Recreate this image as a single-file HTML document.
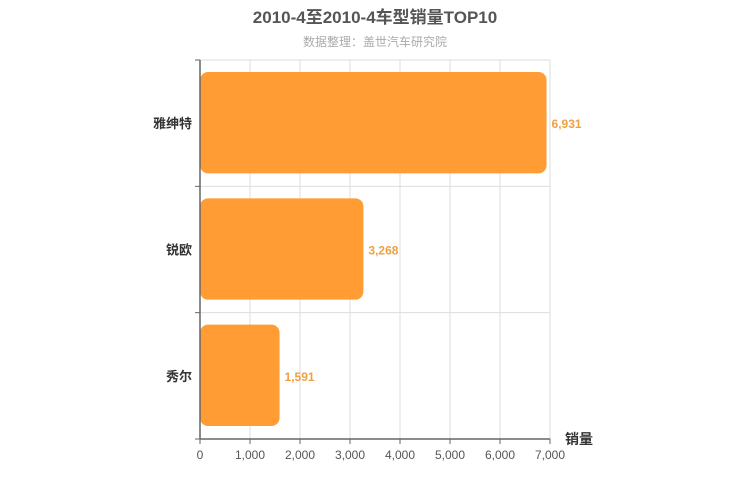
<!DOCTYPE html>
<html><head><meta charset="utf-8"><style>
body{margin:0;background:#fff;}
svg{display:block;font-family:"Liberation Sans","Noto Sans CJK SC",sans-serif;}
</style></head><body>
<svg id="chart" width="750" height="500">
<text x="375" y="23" text-anchor="middle" font-size="17" font-weight="bold" fill="#555">2010-4至2010-4车型销量TOP10</text>
<text x="375" y="46" text-anchor="middle" font-size="12" fill="#aaa">数据整理：盖世汽车研究院</text>
<g id="grid"></g>
<g id="bars"></g>
<g id="axes"></g>
<text x="565" y="444" font-size="14" font-weight="bold" fill="#333">销量</text>
</svg>
<script>
const categories = ["雅绅特", "锐欧", "秀尔"];
const values = [6931, 3268, 1591];
const tickValues = [0, 1000, 2000, 3000, 4000, 5000, 6000, 7000];
const xMax = 7000;
const X0 = 200, X1 = 550, Y0 = 60, Y1 = 439;
const NS = "http://www.w3.org/2000/svg";
function xs(v){return X0 + (v / xMax) * (X1 - X0);}
const band = (Y1 - Y0) / categories.length;
function el(tag, attrs, parent){const e=document.createElementNS(NS,tag);for(const k in attrs)e.setAttribute(k,attrs[k]);parent.appendChild(e);return e;}
const grid=document.getElementById('grid'), bars=document.getElementById('bars'), axes=document.getElementById('axes');
tickValues.forEach(t=>{
  const x=xs(t);
  if(t>0){const g=el('line',{x1:x,x2:x,y1:Y0,y2:Y1,stroke:'#ddd','stroke-width':1},grid);
  
  }
  const tk=el('line',{x1:x,x2:x,y1:Y1,y2:Y1+5,stroke:'#666'},axes);
  
  
  const lb=el('text',{x:x,y:Y1+20,'text-anchor':'middle','font-size':12,fill:'#555'},axes);
  lb.textContent=t.toLocaleString('en-US');
  
  
});
for(let i=0;i<=categories.length;i++){
  const y=Y0+i*band;
  if(i>0&&i<categories.length){const g=el('line',{x1:X0,x2:X1,y1:y,y2:y,stroke:'#ddd'},grid);
  
  }
  const tk=el('line',{x1:X0-5,x2:X0,y1:y,y2:y,stroke:'#666'},axes);
  
  
}
el('line',{x1:X1,x2:X1,y1:Y0,y2:Y1,stroke:'#ddd'},grid);
el('line',{x1:X0,x2:X1,y1:Y0,y2:Y0,stroke:'#ddd'},grid);
const ya=el('line',{x1:X0,x2:X0,y1:Y0,y2:Y1,stroke:'#666','stroke-width':1.5},axes);


const xa=el('line',{x1:X0,x2:X1,y1:Y1,y2:Y1,stroke:'#666','stroke-width':1.5},axes);


categories.forEach((c,i)=>{
  const top=Y0+i*band+12, h=band-25, cy=Y0+i*band+band/2;
  const r=el('rect',{x:X0,y:top,width:xs(values[i])-X0,height:h,rx:8,ry:8,fill:'#ff9c34'},bars);
  
  
  const v=el('text',{x:xs(values[i])+5,y:cy+5,'font-size':12,'font-weight':'bold',fill:'#f0a040'},bars);
  v.textContent=values[i].toLocaleString('en-US');
  
  
  const l=el('text',{x:X0-8,y:cy+5,'text-anchor':'end','font-size':13,'font-weight':'bold',fill:'#333'},axes);
  l.textContent=c;
  
  
});
</script>
</body></html>
